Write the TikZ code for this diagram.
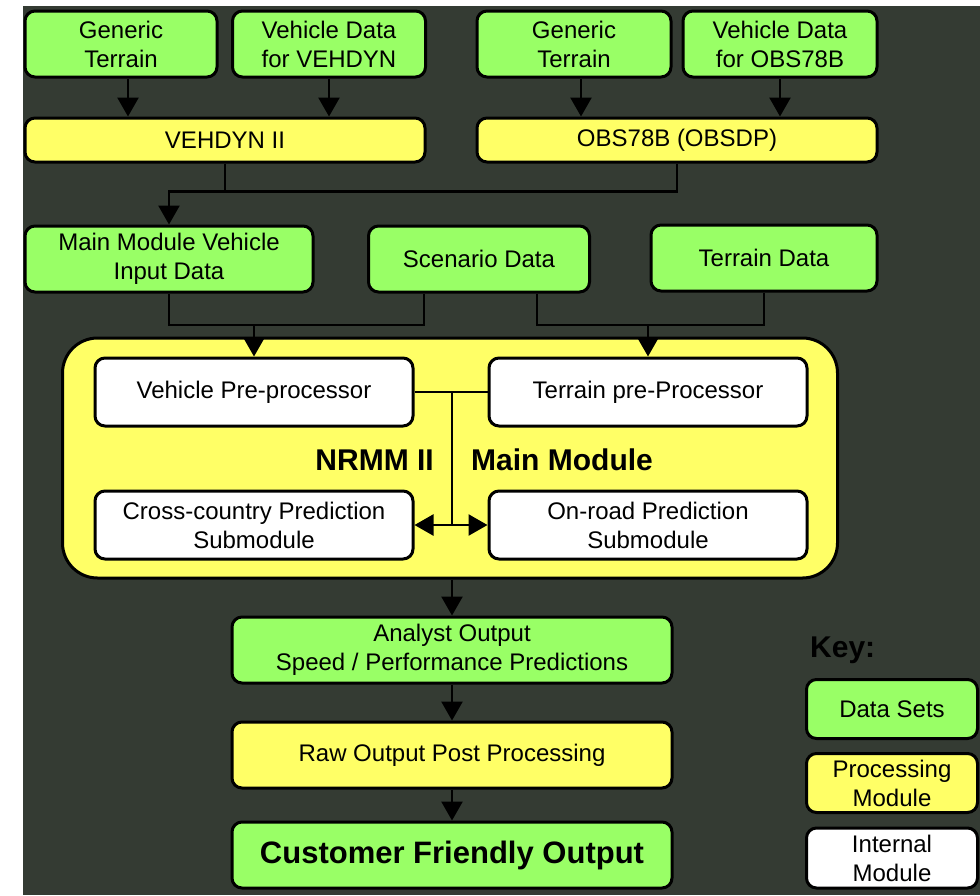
\documentclass[tikz,border=0pt]{standalone}
\usepackage{fontspec}
\setmainfont{Liberation Sans}
\usetikzlibrary{arrows.meta}
\usetikzlibrary{calc}
\definecolor{datagreen}{HTML}{99FF66}
\definecolor{procyellow}{HTML}{FFFF66}
\definecolor{backgray}{HTML}{343B33}
\newcommand{\boxfont}{\fontsize{24}{29}\selectfont}
\newcommand{\titlefont}{\fontsize{30}{34}\selectfont\bfseries}
\tikzset{box/.style={fill=#1,draw=black,line width=3pt,rounded corners=10pt,align=center,inner sep=0pt,font=\boxfont},box/.default=datagreen}
\tikzset{title/.style={color=#1,inner sep=0pt,font=\titlefont},title/.default=black}
\tikzset{link/.style={color=#1,line width=2.5pt},link/.default=black}
\tikzset{arr/.style={link,-{Triangle[length=19pt,width=21pt]}}}

\begin{document}
\begin{tikzpicture}[x=1pt,y=-1pt]
		\useasboundingbox (0,0) rectangle (980,895);
		\fill [white] (0,0) rectangle (980,895);
		\fill [backgray] (23,6) rectangle (980,895);

		\node [box,minimum width=192pt,minimum height=66pt] (GTa) at (121,44) {Generic\\Terrain};
		\node [box,minimum width=193pt,minimum height=66pt] (VDa) at (329,44) {Vehicle Data\\for VEHDYN};
		\node [box=procyellow,minimum width=400pt,minimum height=44pt] (VEH) at (225,140) {VEHDYN II};
		\node [box,minimum width=194pt,minimum height=66pt] (GTb) at (574,44) {Generic\\Terrain};
		\node [box,minimum width=194pt,minimum height=66pt] (VDb) at (780,44) {Vehicle Data\\for OBS78B};
		\node [box=procyellow,minimum width=400pt,minimum height=44pt] (OBS) at (677,140) {OBS78B (OBSDP)};

		\node [box,minimum width=288pt,minimum height=66pt] (MMV) at (169,259) {Main Module Vehicle\\Input Data};
		\node [box,minimum width=221pt,minimum height=66pt] (SCN) at (479,259) {Scenario Data};
		\node [box,minimum width=226pt,minimum height=66pt] (TER) at (764,258) {Terrain Data};

		\node [box=procyellow,rounded corners=35pt,minimum width=775pt,minimum height=240pt] (MAIN) at (450,458) {};
		\node [box=white,minimum width=318pt,minimum height=68pt] (VP) at (254,392) {Vehicle Pre-processor};
		\node [box=white,minimum width=318pt,minimum height=68pt] (TP) at (648,392) {Terrain pre-Processor};
		\node [box=white,minimum width=318pt,minimum height=68pt] (CC) at (254,525) {Cross-country Prediction\\Submodule};
		\node [box=white,minimum width=318pt,minimum height=68pt] (OR) at (648,525) {On-road Prediction\\Submodule};
		\node [title,anchor=east] (NR) at (434,460) {NRMM II};
		\node [title,anchor=west] (MM) at (471,460) {Main Module};

		\node [box,minimum width=440pt,minimum height=66pt] (AO) at (452,650) {Analyst Output\\Speed / Performance Predictions};
		\node [box=procyellow,minimum width=440pt,minimum height=66pt] (RAW) at (452,755) {Raw Output Post Processing};
		\node [box,minimum width=440pt,minimum height=66pt,font=\fontsize{31}{36}\selectfont\bfseries] (CFO) at (452,855) {Customer Friendly Output};

		\node [title,anchor=west] (KEY) at (810,650) {Key:};
		\node [box,minimum width=171pt,minimum height=59pt] (KD) at (892,709) {Data Sets};
		\node [box=procyellow,minimum width=171pt,minimum height=59pt] (KP) at (892,783) {Processing\\Module};
		\node [box=white,minimum width=171pt,minimum height=60pt] (KI) at (892,858) {Internal\\Module};

		\draw [arr] ([xshift=7pt]GTa.south) -- ([xshift=7pt]GTa.south |- VEH.north);
		\draw [arr] (VDa.south) -- (VDa.south |- VEH.north);
		\draw [arr] ([xshift=7pt]GTb.south) -- ([xshift=7pt]GTb.south |- OBS.north);
		\draw [arr] (VDb.south) -- (VDb.south |- OBS.north);

		\coordinate (J) at ($(MMV.north) + (0,-33)$);
		\draw [arr] (VEH.south) |- (J) -- (MMV.north);
		\draw [link] (OBS.south) |- (J);

		\coordinate (K1) at (VP.north |- 0,325);
		\coordinate (K2) at (TP.north |- 0,325);
		\draw [link] (MMV.south) |- (K1) -| ($(SCN.south) + (-55,0)$);
		\draw [arr] (K1) -- (VP.north);
		\draw [link] ($(SCN.south) + (58,0)$) |- (K2) -| (TER.south);
		\draw [arr] (K2) -- (TP.north);

		\coordinate (M1) at (452,392);
		\coordinate (M2) at (452,525);
		\draw [link] (VP.east) -- (TP.west);
		\draw [link] (M1) -- (M2);
		\draw [arr] (M2) -- (CC.east);
		\draw [arr] (M2) -- (OR.west);

		\draw [arr] (AO.north |- MAIN.south) -- (AO.north);
		\draw [arr] (AO) -- (RAW);
		\draw [arr] (RAW) -- (CFO);
	\end{tikzpicture}
\end{document}
